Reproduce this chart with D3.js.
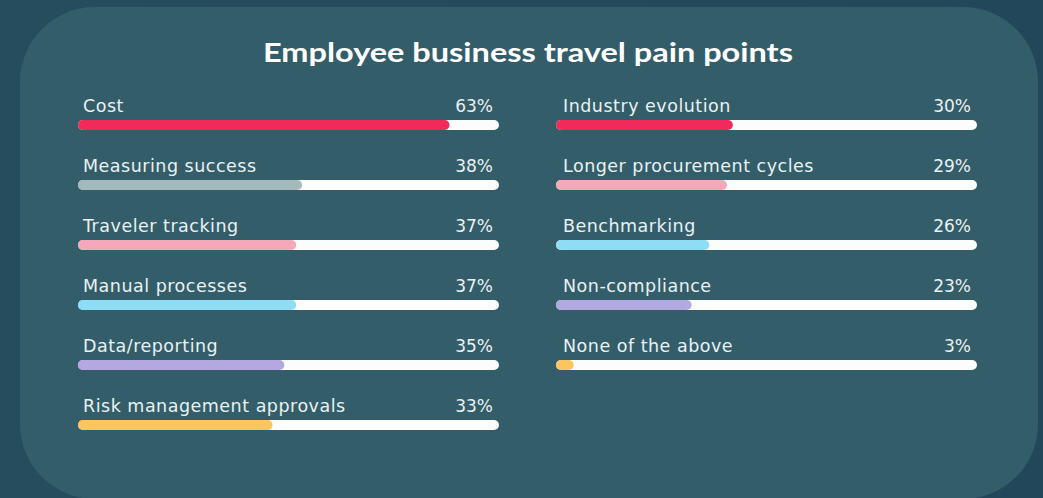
<!DOCTYPE html>
<html>
<head>
<meta charset="utf-8">
<script src="https://cdn.jsdelivr.net/npm/d3@7"></script>
<style>
  html, body { margin: 0; padding: 0; background: #24485a; }
  svg { display: block; }
</style>
</head>
<body>
<div id="chart"></div>
<script>
var title = "Employee business travel pain points";

var leftLabels = ["Cost", "Measuring success", "Traveler tracking", "Manual processes", "Data/reporting", "Risk management approvals"];
var leftValues = [63, 38, 37, 37, 35, 33];
var leftColors = ["#f2295b", "#a3b9bc", "#f4a9ba", "#8fdcf5", "#b4a8e0", "#fdc55c"];

var rightLabels = ["Industry evolution", "Longer procurement cycles", "Benchmarking", "Non-compliance", "None of the above"];
var rightValues = [30, 29, 26, 23, 3];
var rightColors = ["#f2295b", "#f4a9ba", "#8fdcf5", "#b4a8e0", "#fdc55c"];

var width = 1043;
var height = 498;

var svg = d3.select("#chart").append("svg")
  .attr("width", width)
  .attr("height", height);

var bg = svg.append("defs").append("linearGradient")
  .attr("id", "bg")
  .attr("x1", 0).attr("x2", 1).attr("y1", 0).attr("y2", 0);
bg.append("stop").attr("offset", "0%").attr("stop-color", "#264d5e");
bg.append("stop").attr("offset", "100%").attr("stop-color", "#23475a");

svg.append("rect")
  .attr("width", width)
  .attr("height", height)
  .attr("fill", "url(#bg)");

// panel
svg.append("rect")
  .attr("x", 20)
  .attr("y", 7)
  .attr("width", 1018)
  .attr("height", 492)
  .attr("rx", 75)
  .attr("fill", "#345d6a");

svg.append("text")
  .attr("x", 528)
  .attr("y", 62)
  .attr("text-anchor", "middle")
  .attr("fill", "#ffffff")
  .style("font-family", "Lato, 'Open Sans', sans-serif")
  .style("font-weight", 700)
  .style("font-size", "27px")
  .attr("textLength", 530)
  .attr("lengthAdjust", "spacingAndGlyphs")
  .text(title);

// one shared scale, bars are 421px long
var barLen = 421;
var x = d3.scaleLinear().domain([0, 71.4]).range([0, barLen]);
var y = d3.scalePoint().domain(d3.range(6)).range([125, 425]);

function column(labels, values, colors, x0, labelX, pctX) {
  var rows = labels.map(function (l, i) { return { label: l, value: values[i], color: colors[i], i: i }; });

  var g = svg.append("g");

  var row = g.selectAll("g.row")
    .data(rows)
    .join("g")
    .attr("class", "row")
    .attr("transform", d => "translate(0," + y(d.i) + ")");

  row.append("rect")
    .attr("x", x0)
    .attr("y", -5)
    .attr("width", barLen)
    .attr("height", 10)
    .attr("rx", 5)
    .attr("fill", "#fbfdfd");

  row.append("rect")
    .attr("x", x0)
    .attr("y", -5)
    .attr("width", d => Math.max(x(d.value), 10))
    .attr("height", 10)
    .attr("rx", 5)
    .attr("fill", d => d.color);

  row.append("text")
    .attr("x", labelX)
    .attr("y", -13)
    .attr("fill", "#e9f1f2")
    .style("font-family", "'DejaVu Sans', sans-serif")
    .style("font-size", "17.5px")
    .style("letter-spacing", "0.5px")
    .text(d => d.label);

  row.append("text")
    .attr("x", pctX)
    .attr("y", -13)
    .attr("text-anchor", "end")
    .attr("fill", "#e9f1f2")
    .style("font-family", "'DejaVu Sans', sans-serif")
    .style("font-size", "17px")
    .text(d => d.value + "%");
}

column(leftLabels, leftValues, leftColors, 78, 83, 493);
column(rightLabels, rightValues, rightColors, 556, 563, 971);
</script>
</body>
</html>
